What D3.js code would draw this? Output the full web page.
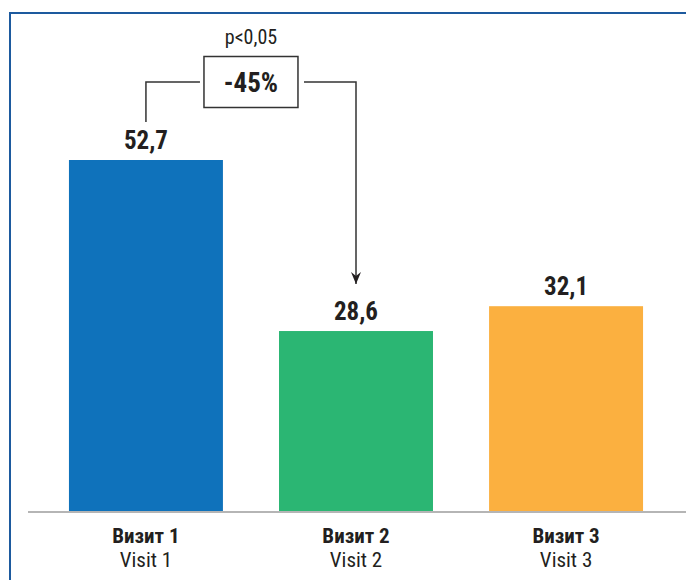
<!DOCTYPE html>
<html>
<head>
<meta charset="utf-8">
<script src="https://cdn.jsdelivr.net/npm/d3@7"></script>
<style>
  body { margin: 0; background: #fff; }
  text { font-family: "Liberation Sans Narrow", "Roboto Condensed", "DejaVu Sans Condensed", Roboto, sans-serif; fill: #231f20; }
</style>
</head>
<body>
<div id="visit-chart"></div>
<script>
// chart data
var visitsRu = ["Визит 1", "Визит 2", "Визит 3"];
var visitsEn = ["Visit 1", "Visit 2", "Visit 3"];
var values = [52.7, 28.6, 32.1];
var barColors = ["#0f72bb", "#2bb673", "#fbb040"];
var changeLabel = "-45%";
var pLabel = "p<0,05";

var width = 686, height = 580;
var baseY = 512;

var svg = d3.select("#visit-chart")
  .append("svg")
    .attr("width", width)
    .attr("height", height);

// frame (only top and left visible)
svg.append("path")
  .attr("d", "M10,580 V13 H686")
  .attr("fill", "none")
  .attr("stroke", "#1d5a9e")
  .attr("stroke-width", 2);

// x scale
var x = d3.scaleBand()
  .domain(visitsRu)
  .range([24, 688])
  .paddingInner(0.267)
  .paddingOuter(0.214);

// y scale
var y = d3.scaleLinear()
  .domain([3.1, 52.7])
  .range([baseY, 160]);

// bars
svg.selectAll("rect.bar")
  .data(values)
  .enter()
  .append("rect")
    .attr("class", "bar")
    .attr("x", function(d, i) { return x(visitsRu[i]); })
    .attr("y", function(d) { return y(d); })
    .attr("width", x.bandwidth())
    .attr("height", function(d) { return baseY - y(d); })
    .attr("fill", function(d, i) { return barColors[i]; });

// baseline
svg.append("line")
  .attr("x1", 28).attr("x2", 686)
  .attr("y1", baseY).attr("y2", baseY)
  .attr("stroke", "#b5b5b5")
  .attr("stroke-width", 2);

// value labels
svg.selectAll("text.value")
  .data(values)
  .enter()
  .append("text")
    .attr("class", "value")
    .attr("x", function(d, i) { return x(visitsRu[i]) + x.bandwidth() / 2; })
    .attr("y", function(d) { return y(d) - 11; })
    .attr("text-anchor", "middle")
    .style("font-size", "25px")
    .style("font-weight", "bold")
    .text(function(d) { return d3.format(".1f")(d).replace(".", ","); });

// category labels
svg.selectAll("text.cat-ru")
  .data(visitsRu)
  .enter()
  .append("text")
    .attr("class", "cat-ru")
    .attr("x", function(d) { return x(d) + x.bandwidth() / 2; })
    .attr("y", 543)
    .attr("text-anchor", "middle")
    .style("font-size", "21px")
    .style("font-weight", "bold")
    .text(function(d) { return d; });

svg.selectAll("text.cat-en")
  .data(visitsEn)
  .enter()
  .append("text")
    .attr("class", "cat-en")
    .attr("x", function(d, i) { return x(visitsRu[i]) + x.bandwidth() / 2; })
    .attr("y", 567)
    .attr("text-anchor", "middle")
    .style("font-size", "21px")
    .text(function(d) { return d; });

// change annotation between visit 1 and visit 2
var x1 = x(visitsRu[0]) + x.bandwidth() / 2,
    x2 = x(visitsRu[1]) + x.bandwidth() / 2,
    xm = (x1 + x2) / 2,
    bracketY = 82,
    boxW = 94, boxH = 51;

svg.append("defs").append("marker")
  .attr("id", "arrow")
  .attr("viewBox", "0 0 12 10")
  .attr("refX", 12).attr("refY", 5)
  .attr("markerWidth", 12).attr("markerHeight", 10)
  .attr("markerUnits", "userSpaceOnUse")
  .attr("orient", "auto")
  .append("path")
    .attr("d", "M0,0 L4,5 L0,10 L12,5 Z")
    .attr("fill", "#231f20");

svg.append("path")
  .attr("d", "M" + x1 + "," + (y(values[0]) - 38) + " V" + bracketY + " H" + (xm - boxW / 2 - 4))
  .attr("fill", "none")
  .attr("stroke", "#333")
  .attr("stroke-width", 1.5);

svg.append("path")
  .attr("d", "M" + (xm + boxW / 2 + 6) + "," + bracketY + " H" + x2 + " V" + (y(values[1]) - 47))
  .attr("fill", "none")
  .attr("stroke", "#333")
  .attr("stroke-width", 1.5)
  .attr("marker-end", "url(#arrow)");

svg.append("rect")
  .attr("x", xm - boxW / 2)
  .attr("y", bracketY - boxH / 2)
  .attr("width", boxW)
  .attr("height", boxH)
  .attr("fill", "#fff")
  .attr("stroke", "#333")
  .attr("stroke-width", 1.5);

svg.append("text")
  .attr("x", xm)
  .attr("y", bracketY + 10)
  .attr("text-anchor", "middle")
  .style("font-size", "27px")
  .style("font-weight", "bold")
  .text(changeLabel);

svg.append("text")
  .attr("x", xm)
  .attr("y", 44)
  .attr("text-anchor", "middle")
  .style("font-size", "20px")
  .text(pLabel);
</script>
</body>
</html>
